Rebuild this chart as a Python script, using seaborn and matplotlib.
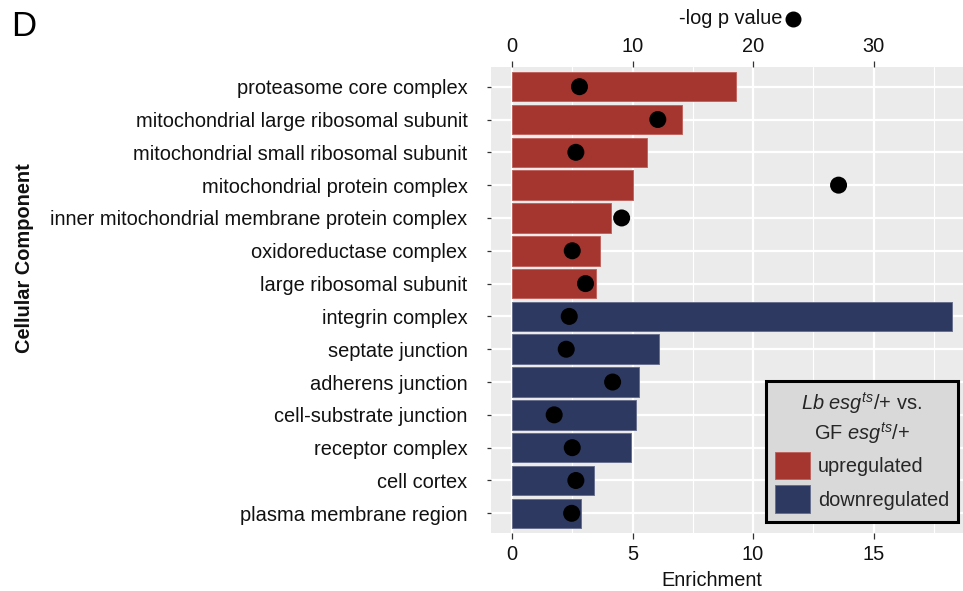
import numpy as np
import pandas as pd
import matplotlib
matplotlib.use("Agg")
import matplotlib.pyplot as plt
from matplotlib.patches import Patch
import seaborn as sns

# GO cellular-component terms, top to bottom
terms = [
    "proteasome core complex",
    "mitochondrial large ribosomal subunit",
    "mitochondrial small ribosomal subunit",
    "mitochondrial protein complex",
    "inner mitochondrial membrane protein complex",
    "oxidoreductase complex",
    "large ribosomal subunit",
    "integrin complex",
    "septate junction",
    "adherens junction",
    "cell-substrate junction",
    "receptor complex",
    "cell cortex",
    "plasma membrane region",
]
enrichment = [9.3, 7.05, 5.6, 5.0, 4.1, 3.65, 3.47,
              18.25, 6.1, 5.27, 5.15, 4.93, 3.4, 2.87]
neg_log_p = [5.6, 12.1, 5.3, 27.1, 9.1, 5.0, 6.1,
             4.75, 4.5, 8.35, 3.5, 5.0, 5.3, 4.95]
direction = ["upregulated"] * 7 + ["downregulated"] * 7

x_ticks = [0, 5, 10, 15]
x_minor = [2.5, 7.5, 12.5, 17.5]
p_ticks = [0, 10, 20, 30]

palette = {"upregulated": "#A5352F", "downregulated": "#2D3960"}
edges = {"upregulated": "#C0645E", "downregulated": "#68708F"}

df = pd.DataFrame({
    "term": terms,
    "enrichment": enrichment,
    "neglogp": neg_log_p,
    "direction": direction,
})
df["row"] = np.arange(len(df))

sns.set_theme(style="white")
plt.rcParams["font.family"] = ["Liberation Sans", "DejaVu Sans"]
plt.rcParams["mathtext.fontset"] = "custom"
plt.rcParams["mathtext.rm"] = "Liberation Sans"
plt.rcParams["mathtext.it"] = "Liberation Sans:italic"

FS = 14.4
W, H = 963, 591
fig = plt.figure(figsize=(W / 100, H / 100), dpi=100)
fig.patch.set_facecolor("white")

L, R, T, B = 491, 963, 67, 533
ax = fig.add_axes([L / W, (H - B) / H, (R - L) / W, (B - T) / H])
ax.set_facecolor("#EBEBEB")

sns.barplot(data=df, x="enrichment", y="term", hue="direction",
            palette=palette, saturation=1, dodge=False, width=0.9, orient="h",
            legend=False, ax=ax, zorder=2)
for bar, d in zip(ax.patches, df["direction"]):
    bar.set_edgecolor(edges[d])
    bar.set_linewidth(0.7)

xlo = (L - 512) / 24.1
xhi = (R - 512) / 24.1
ax.set_xlim(xlo, xhi)
ax.set_ylim(len(terms) - 1 + 0.6, -0.6)

# grid
ax.set_axisbelow(True)
for v in x_ticks:
    ax.axvline(v, color="white", lw=1.6, zorder=0.5)
for v in x_minor:
    ax.axvline(v, color="white", lw=0.8, zorder=0.5)
for i in range(len(terms)):
    ax.axhline(i, color="white", lw=1.6, zorder=0.5)

for s in ax.spines.values():
    s.set_visible(False)

ax.set_xticks(x_ticks)
ax.set_xticklabels([str(t) for t in x_ticks])
ax.tick_params(axis="x", bottom=True, length=4, width=0.9, color="#333333",
               pad=5, labelsize=FS, labelcolor="#111111")
ax.tick_params(axis="y", left=True, length=3, width=0.9, color="#333333",
               pad=14, labelsize=FS, labelcolor="#111111")
ax.set_xlabel("")
ax.set_ylabel("")

# -log p values on a top axis
ax2 = ax.twiny()
ax2.set_xlim(2 * xlo, 2 * xhi)
sns.scatterplot(data=df, x="neglogp", y="row", color="black", s=150,
                edgecolor="none", ax=ax2, zorder=5, legend=False)
ax2.set_ylim(len(terms) - 1 + 0.6, -0.6)
ax2.set_xticks(p_ticks)
ax2.set_xticklabels([str(t) for t in p_ticks])
ax2.tick_params(axis="x", top=True, bottom=False, labeltop=True,
                labelbottom=False, length=4, width=0.9, color="#333333",
                pad=4, labelsize=FS, labelcolor="#111111")
ax2.set_xlabel("")
ax2.set_ylabel("")
for s in ax2.spines.values():
    s.set_visible(False)
ax2.grid(False)

# axis titles
fig.text(712 / W, 1 - 580 / H, "Enrichment", ha="center", va="center",
         fontsize=FS, color="#111111")
fig.text(782 / W, 1 - 18 / H, "-log p value", ha="right", va="center",
         fontsize=FS, color="#111111")
fig.add_artist(plt.Line2D([793 / W], [1 - 19 / H], marker="o", markersize=10.5,
                          color="black", transform=fig.transFigure))
fig.text(24 / W, 1 - 258 / H, "Cellular Component", ha="center", va="center",
         rotation=90, fontsize=FS, fontweight="bold", color="#111111")
fig.text(11 / W, 1 - 26 / H, "D", ha="left", va="center", fontsize=25,
         color="black")

# legend
handles = [Patch(facecolor=palette[k], edgecolor=edges[k], linewidth=0.7, label=k)
           for k in ["upregulated", "downregulated"]]
leg = ax2.legend(
    handles=handles,
    title="$\\mathit{Lb\\ esg}^{ts}$/+ vs.\nGF $\\mathit{esg}^{ts}$/+",
    loc="lower right",
    bbox_to_anchor=((958 - L) / (R - L), (B - 522) / (B - T)),
    fontsize=FS, title_fontsize=FS, frameon=True, fancybox=False,
    facecolor="#D9D9D9", edgecolor="black", framealpha=1,
    handlelength=1.75, handleheight=1.75, handletextpad=0.4,
    labelspacing=0.3, borderpad=0.45, borderaxespad=0,
)
leg.get_title().set_multialignment("center")
leg.get_frame().set_linewidth(2.2)
leg.set_zorder(10)

fig.savefig("out.png", dpi=100, facecolor="white")
